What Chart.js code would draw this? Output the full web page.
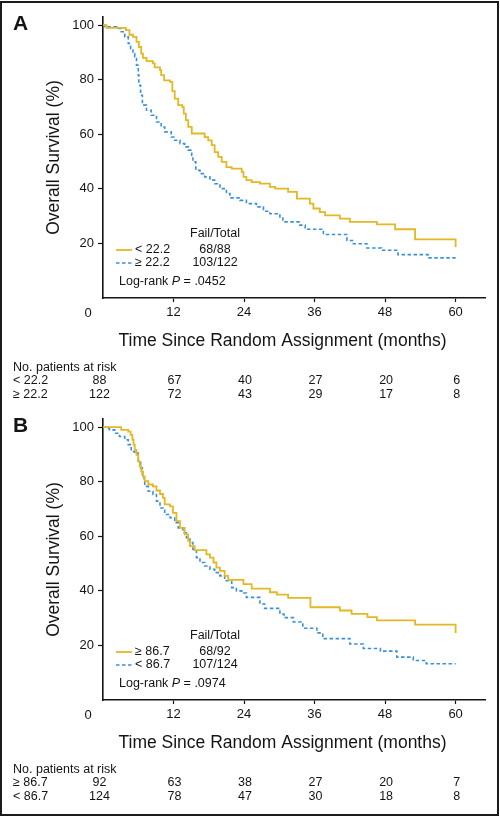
<!DOCTYPE html>
<html><head><meta charset="utf-8">
<script src="https://cdn.jsdelivr.net/npm/chart.js@4.4.1/dist/chart.umd.min.js"></script>
<style>
html,body{margin:0;padding:0;background:#fff;}
#wrap{position:relative;width:500px;height:816px;overflow:hidden;background:#fff;}
.pane{position:absolute;left:0;width:500px;height:408px;}
#frame{position:absolute;left:0;top:1px;width:499px;height:815px;box-sizing:border-box;border:2px solid #1b1b1b;pointer-events:none;}
</style></head><body>
<div id="wrap">
<div class="pane" style="top:0"><canvas id="cA" width="500" height="408"></canvas></div>
<div class="pane" style="top:402px"><canvas id="cB" width="500" height="408"></canvas></div>
<div id="frame"></div>
</div>
<script>
// ---------- data ----------
const xTicks = [12, 24, 36, 48, 60];
const yTicks = [20, 40, 60, 80, 100];
const riskTimes = [0, 12, 24, 36, 48, 60];

// Panel A
const timeA_low = [0,0.6,3.9,4.5,5.1,5.7,6.1,6.5,6.8,7.4,8.5,8.8,9.7,9.9,10.4,11.4,11.8,12.2,12.8,13.5,13.75,14.1,14.5,15.1,17.3,17.9,18.5,19.0,19.6,20.2,21.0,21.9,23.6,23.9,24.4,25.3,26.7,28.4,29.3,31.5,33.0,35.2,35.8,36.9,37.8,40.3,42.0,46.6,49.7,53.1,60];
const survA_low = [100,99,98.2,96.5,95.7,93.9,92,89.6,88,86.8,86,84.5,83.5,81.7,79.8,79.2,75.8,73.1,70.7,70,67.6,65.2,62.7,60.3,59,57.8,56,53.5,51.7,49.9,48,47.4,46.2,44.4,43.2,42.5,41.9,40.7,40.1,38.9,36.4,34.6,32.8,31.5,30.3,29.1,27.9,27.0,25.2,21.5,18.7];
const timeA_high = [0,0.3,2.3,3.1,3.7,4.3,4.7,5.1,5.4,5.7,6.0,6.1,6.4,6.7,7.4,8.2,9.1,9.9,10.5,11.6,12.2,13.1,13.9,14.5,15.1,15.3,15.8,16.5,17.3,18.2,19.0,19.9,21.0,21.6,23.3,24.4,26.1,27.3,28.4,30.1,30.6,33.5,34.4,37.5,41.5,42.6,44.9,47.4,50.2,55.3,60];
const survA_high = [100,99.4,98.8,97.6,95.7,93.3,91.4,89.6,88.4,85.3,81.7,78,74.3,70.7,68.8,67,64.5,62.7,60.9,59,57.8,56.6,55.4,54.2,52.3,49.9,46.8,45.6,44.4,43.2,41.9,40.1,38.3,36.7,35.8,34.6,33.4,31.8,30.9,29.7,27.9,26.7,25.2,23.3,21.1,19.9,18.3,17.5,15.9,14.7,14.7];
const labelsA = ['< 22.2', '\u2265 22.2'];
const failTotalA = ['68/88', '103/122'];
const pValueA = '.0452';
const riskA_low = [88, 67, 40, 27, 20, 6];
const riskA_high = [122, 72, 43, 29, 17, 8];

// Panel B
const timeB_high = [0,3.1,4.3,4.7,5.0,5.2,5.4,5.7,6.0,6.25,6.5,6.8,7.1,7.7,8.5,9.1,9.7,10.2,10.5,11.4,11.9,12.5,13.1,13.9,14.5,14.8,15.6,17.6,18.2,18.8,19.3,19.9,20.7,21.3,23.9,25.3,28.4,29.6,31.5,35.3,40.3,42.3,45.0,46.6,53.1,60];
const survB_high = [100,99,98.4,97.2,95.4,93.6,91.7,89.9,87.5,85.6,83.8,82,80.2,79,78.3,76.8,75.5,74.1,71.7,71,68.6,65.6,63.1,60.7,58.3,56.4,54.9,53.4,52.2,50.4,48.5,47.3,45.5,44,42.5,40.8,39.5,38.6,37.4,34,32.8,31.6,30.4,29.2,27.6,24.6];
const timeB_low = [0,0.6,1.1,2.0,2.8,3.7,4.3,4.8,5.4,6.0,6.4,6.7,7.0,7.1,7.7,8.5,9.1,9.7,10.5,11.4,12.2,12.8,13.6,14.2,14.8,15.3,15.9,16.5,17.3,18.2,19.0,19.9,20.7,21.9,22.7,23.6,24.4,26.7,27.5,30.1,30.8,32.4,34.0,36.4,37.4,42.0,44.3,47.2,50.0,52.8,55.0,60];
const survB_low = [100,99.6,99,97.8,96.6,95.4,93.6,91.1,90.5,87.5,85,82.6,80.2,78.3,76.5,75.3,72.9,70.4,68,66.8,65,63.1,61.3,59.5,57.7,55.2,52.2,50.4,49.1,47.9,46.7,45.5,43.7,41.2,40,39.2,37.6,35.2,33.6,31.5,30.2,28.6,26.3,24.6,22.5,20.5,18.9,17.9,15.7,14.5,13.3,13.3];
const labelsB = ['\u2265 86.7', '< 86.7'];
const failTotalB = ['68/92', '107/124'];
const pValueB = '.0974';
const riskB_high = [92, 63, 38, 27, 20, 7];
const riskB_low = [124, 78, 47, 30, 18, 8];

// ---------- styling ----------
const FONT = "'Liberation Sans', Arial, Helvetica, sans-serif";
const YELLOW = '#E3B824';
const BLUE = '#3A90DB';
const INK = '#141414';

function overlayPlugin(p) {
  return {
    id: 'overlay' + p.letter,
    afterDraw(chart) {
      const ctx = chart.ctx;
      const xs = chart.scales.x;
      const ca = chart.chartArea;
      const axisY = ca.bottom;
      ctx.save();
      ctx.fillStyle = INK;
      // panel letter
      ctx.font = "bold 21px " + FONT;
      ctx.textAlign = 'center'; ctx.textBaseline = 'middle';
      ctx.fillText(p.letter, 20.5, 24);
      // origin tick label "0"
      ctx.font = "13px " + FONT;
      ctx.textAlign = 'center'; ctx.textBaseline = 'middle';
      ctx.fillText('0', xs.getPixelForValue(0) - 15, axisY + 15);
      // x axis title
      ctx.font = "17.5px " + FONT;
      ctx.fillText('Time Since Random Assignment (months)', 282.5, axisY + 43);
      // legend
      ctx.font = "12.5px " + FONT;
      ctx.textAlign = 'center';
      ctx.fillText('Fail/Total', 215, axisY - 64);
      const rows = [axisY - 48, axisY - 35];
      const cols = [YELLOW, BLUE];
      const dashes = [[], [3.5, 2.5]];
      for (let i = 0; i < 2; i++) {
        ctx.save();
        ctx.strokeStyle = cols[i];
        ctx.lineWidth = i === 0 ? 1.8 : 1.6;
        ctx.setLineDash(dashes[i]);
        ctx.beginPath(); ctx.moveTo(116, rows[i]); ctx.lineTo(132, rows[i]); ctx.stroke();
        ctx.restore();
        ctx.textAlign = 'left';
        ctx.fillText(p.labels[i], 135, rows[i]);
        ctx.textAlign = 'center';
        ctx.fillText(p.failTotal[i], 215, rows[i]);
      }
      // log-rank
      ctx.textAlign = 'left';
      let x = 119;
      const y = axisY - 16;
      const s1 = 'Log-rank ';
      ctx.fillText(s1, x, y); x += ctx.measureText(s1).width;
      ctx.font = "italic 12.5px " + FONT;
      ctx.fillText('P', x, y); x += ctx.measureText('P').width;
      ctx.font = "12.5px " + FONT;
      ctx.fillText(' = ' + p.pValue, x, y);
      // risk table
      ctx.font = "12.5px " + FONT;
      ctx.textAlign = 'left';
      ctx.fillText('No. patients at risk', 13, axisY + 69.5);
      const rr = [axisY + 83, axisY + 96.5];
      for (let i = 0; i < 2; i++) {
        ctx.textAlign = 'left';
        ctx.fillText(p.labels[i], 13, rr[i]);
        ctx.textAlign = 'center';
        riskTimes.forEach((t, j) => {
          const px = xs.getPixelForValue(t) + (t === 0 ? -3.5 : 1);
          ctx.fillText(String(p.risk[i][j]), px, rr[i]);
        });
      }
      ctx.restore();
    }
  };
}

function makeChart(id, p) {
  const datasets = p.series.map(s => ({
    data: s.t.map((t, i) => ({x: t, y: s.s[i]})),
    stepped: 'before',
    borderColor: s.color,
    borderWidth: s.width,
    borderDash: s.dash,
    pointRadius: 0,
    fill: false
  }));
  return new Chart(document.getElementById(id), {
    type: 'line',
    data: {datasets},
    options: {
      responsive: false,
      animation: false,
      events: [],
      layout: {padding: {left: 0, right: 15, top: 17, bottom: 0}},
      plugins: {legend: {display: false}, tooltip: {enabled: false}},
      scales: {
        x: {
          type: 'linear', min: 0, max: 65,
          afterBuildTicks: s => { s.ticks = xTicks.map(v => ({value: v})); },
          afterFit: s => { s.height = 110; },
          grid: {drawOnChartArea: false, drawTicks: true, tickLength: 4, color: INK, tickWidth: 1.2},
          border: {display: true, color: INK, width: 1.6},
          ticks: {font: {family: FONT, size: 13}, color: INK, padding: 3, maxRotation: 0, autoSkip: false}
        },
        y: {
          type: 'linear', min: 0, max: 103,
          afterBuildTicks: s => { s.ticks = yTicks.map(v => ({value: v})); },
          afterFit: s => { s.width = 103; },
          grid: {drawOnChartArea: false, drawTicks: true, tickLength: 5, color: INK, tickWidth: 1.2},
          border: {display: true, color: INK, width: 1.6},
          ticks: {font: {family: FONT, size: 13}, color: INK, padding: 4, autoSkip: false},
          title: {display: true, text: 'Overall Survival (%)', color: INK,
                  font: {family: FONT, size: 17.5}, padding: {top: 44, bottom: 0}}
        }
      }
    },
    plugins: [overlayPlugin(p)]
  });
}

makeChart('cA', {
  letter: 'A',
  series: [
    {t: timeA_low, s: survA_low, color: YELLOW, width: 1.8, dash: []},
    {t: timeA_high, s: survA_high, color: BLUE, width: 1.6, dash: [3.5, 2.5]}
  ],
  labels: labelsA, failTotal: failTotalA, pValue: pValueA,
  risk: [riskA_low, riskA_high]
});
makeChart('cB', {
  letter: 'B',
  series: [
    {t: timeB_high, s: survB_high, color: YELLOW, width: 1.8, dash: []},
    {t: timeB_low, s: survB_low, color: BLUE, width: 1.6, dash: [3.5, 2.5]}
  ],
  labels: labelsB, failTotal: failTotalB, pValue: pValueB,
  risk: [riskB_high, riskB_low]
});
</script>
</body></html>
